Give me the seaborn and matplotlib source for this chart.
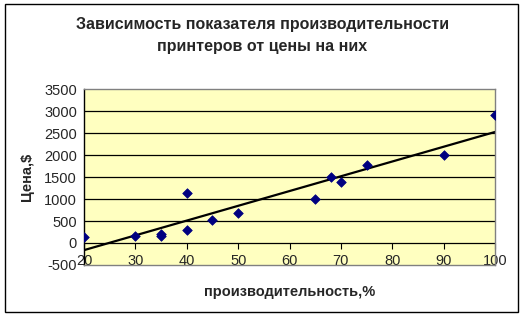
import matplotlib
matplotlib.use("Agg")
import matplotlib.pyplot as plt
import seaborn as sns
import pandas as pd
from matplotlib.patches import Rectangle

productivity = [20, 30, 35, 35, 40, 40, 45, 50, 65, 68, 70, 75, 90, 100]
price = [137, 153, 214, 160, 1149, 305, 533, 693, 1012, 1505, 1400, 1787, 2015, 2905]
title = "Зависимость показателя производительности\nпринтеров от цены на них"
xlabel = "производительность,%"
ylabel = "Цена,$"
xticks = [20, 30, 40, 50, 60, 70, 80, 90, 100]
yticks = [-500, 0, 500, 1000, 1500, 2000, 2500, 3000, 3500]

df = pd.DataFrame({"x": productivity, "y": price})

sns.set_theme(style="white")
plt.rcParams["font.family"] = ["Liberation Sans", "DejaVu Sans"]
plt.rcParams["axes.unicode_minus"] = False

fig = plt.figure(figsize=(5.25, 3.18), dpi=100)
fig.patch.set_facecolor("white")
ax = fig.add_axes([0.16, 0.167, 0.783, 0.552])
ax.set_facecolor("#FFFFC0")

for yv in yticks[1:-1]:
    ax.axhline(yv, color="black", lw=0.9, zorder=1)

sns.regplot(data=df, x="x", y="y", ax=ax, scatter=False, ci=None, truncate=True,
            line_kws=dict(color="black", lw=1.6, zorder=2))
sns.scatterplot(data=df, x="x", y="y", ax=ax, marker="D", s=24, color="#000080",
                edgecolor="#000080", linewidth=0.5, zorder=3)

ax.set_xlim(20, 100)
ax.set_ylim(-500, 3500)
ax.set_xticks(xticks)
ax.set_yticks(yticks)
ax.tick_params(axis="y", labelsize=10.5, length=4, width=0.8, color="black",
               direction="out", pad=1)
ax.tick_params(axis="x", labelsize=10.5, length=0, pad=0)
for lbl in ax.get_xticklabels():
    lbl.set_verticalalignment("baseline")
for s in ax.spines.values():
    s.set_color("#808080")
    s.set_linewidth(1.0)
ax.spines["left"].set_color("black")

# x axis line crosses at y = 0, ticks hang down from it
yzero = (0 - yticks[0]) / (yticks[-1] - yticks[0])
sec = ax.secondary_xaxis(yzero)
sec.set_xticks(xticks)
sec.tick_params(axis="x", direction="out", length=4.5, width=0.8, color="black",
                labelbottom=False, labeltop=False)
for s in sec.spines.values():
    s.set_visible(False)

ax.set_xlabel(xlabel, fontsize=10.5, fontweight="bold", va="center")
ax.xaxis.set_label_coords(0.5, -0.155)
ax.set_ylabel(ylabel, fontsize=10.5, fontweight="bold", labelpad=7)

fig.text(0.5, 1 - 35.5 / 318, title, ha="center", va="center", fontsize=11.5,
         fontweight="bold", linespacing=1.5)

fig.patches.append(Rectangle((5 / 525, 1 - 312 / 318), 513 / 525, 308 / 318,
                             transform=fig.transFigure, fill=False,
                             edgecolor="black", lw=1.0))

fig.savefig("out.png", dpi=100)
